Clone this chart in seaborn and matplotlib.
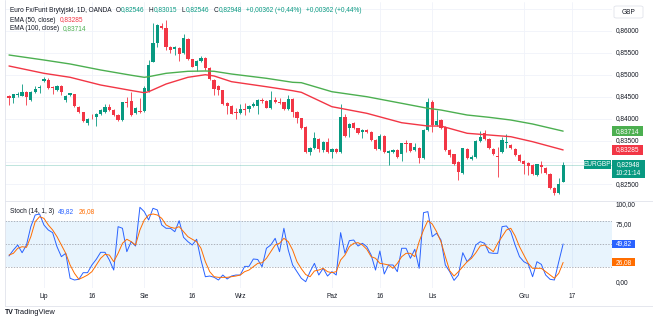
import numpy as np
import matplotlib
matplotlib.use('Agg')
import matplotlib.pyplot as plt
import matplotlib.transforms as mtrans
from matplotlib.patches import Rectangle, FancyBboxPatch
import seaborn as sns

# ---------------- data ----------------
opens = [0.84516, 0.84477, 0.84532, 0.84523, 0.84600, 0.84425, 0.84614, 0.84692, 0.84865, 0.84881,
         0.84728, 0.84653, 0.84744, 0.84425, 0.84539, 0.84555, 0.84272, 0.84144, 0.83893, 0.84021,
         0.84037, 0.84098, 0.84158, 0.84272, 0.84196, 0.84082, 0.83968, 0.84372, 0.84402, 0.84121,
         0.84180, 0.84174, 0.84630, 0.85299, 0.85719, 0.86121, 0.86075, 0.85642, 0.85589, 0.85619,
         0.85491, 0.85817, 0.85361, 0.85208, 0.85315, 0.85390, 0.85162, 0.84881, 0.84737, 0.84646,
         0.84349, 0.84295, 0.84144, 0.84121, 0.84219, 0.84219, 0.84295, 0.84295, 0.84425, 0.84402,
         0.84235, 0.84425, 0.84372, 0.84372, 0.84219, 0.84448, 0.84158, 0.84007, 0.83808, 0.83231,
         0.83336, 0.83534, 0.83283, 0.83459, 0.83231, 0.83306, 0.83231, 0.84043, 0.83779, 0.83893,
         0.83779, 0.83687, 0.83740, 0.83687, 0.83512, 0.83306, 0.83610, 0.83208, 0.83231, 0.83283,
         0.83185, 0.83436, 0.83436, 0.83283, 0.83336, 0.83094, 0.83740, 0.84372, 0.83854, 0.83968,
         0.83815, 0.83283, 0.83185, 0.83002, 0.82751, 0.83306, 0.83078, 0.83130, 0.83489, 0.83665,
         0.83534, 0.83306, 0.83153, 0.83231, 0.83443, 0.83397, 0.83306, 0.83169, 0.83032, 0.82986,
         0.82941, 0.82712, 0.82941, 0.82879, 0.82728, 0.82423, 0.82295, 0.82546]
highs = [0.84539, 0.84569, 0.84614, 0.84783, 0.84619, 0.84619, 0.84751, 0.84756, 0.84957, 0.84927,
         0.84744, 0.84767, 0.84767, 0.84539, 0.84596, 0.84573, 0.84288, 0.84162, 0.84014, 0.84098,
         0.84117, 0.84219, 0.84327, 0.84327, 0.84219, 0.84105, 0.84390, 0.84500, 0.84600, 0.84265,
         0.84464, 0.84744, 0.85338, 0.86176, 0.86171, 0.86176, 0.86251, 0.85658, 0.85664, 0.85635,
         0.85925, 0.85840, 0.85372, 0.85338, 0.85436, 0.85406, 0.85178, 0.84904, 0.84756, 0.84664,
         0.84368, 0.84311, 0.84249, 0.84327, 0.84349, 0.84311, 0.84372, 0.84448, 0.84464, 0.84425,
         0.84630, 0.84500, 0.84464, 0.84390, 0.84539, 0.84470, 0.84174, 0.84025, 0.83831, 0.83352,
         0.83701, 0.83557, 0.83489, 0.83564, 0.83329, 0.83329, 0.84327, 0.84105, 0.83900, 0.83922,
         0.83797, 0.83763, 0.83763, 0.83706, 0.83534, 0.83648, 0.83637, 0.83283, 0.83306, 0.83306,
         0.83454, 0.83512, 0.83454, 0.83436, 0.83352, 0.83763, 0.84477, 0.84425, 0.84196, 0.83991,
         0.83831, 0.83306, 0.83203, 0.83021, 0.83340, 0.83329, 0.83158, 0.83512, 0.83717, 0.83740,
         0.83557, 0.83329, 0.83359, 0.83587, 0.83642, 0.83420, 0.83329, 0.83192, 0.83055, 0.83009,
         0.82957, 0.82975, 0.83024, 0.82895, 0.82747, 0.82439, 0.82651, 0.83015]
lows = [0.84311, 0.84356, 0.84500, 0.84505, 0.84311, 0.84402, 0.84596, 0.84585, 0.84847, 0.84687,
        0.84562, 0.84630, 0.84539, 0.84372, 0.84516, 0.84276, 0.84128, 0.83922, 0.83854, 0.83991,
        0.83831, 0.84082, 0.84139, 0.84174, 0.84060, 0.83945, 0.83945, 0.84272, 0.84060, 0.84105,
        0.84139, 0.84151, 0.84607, 0.85281, 0.85642, 0.86046, 0.85566, 0.85491, 0.85452, 0.85315,
        0.85475, 0.85338, 0.85167, 0.85087, 0.85292, 0.85110, 0.84881, 0.84539, 0.84539, 0.84311,
        0.84098, 0.84094, 0.83991, 0.84105, 0.84082, 0.84158, 0.84276, 0.84098, 0.84349, 0.84231,
        0.84219, 0.84356, 0.84333, 0.84196, 0.84196, 0.84043, 0.83893, 0.83763, 0.83215, 0.83169,
        0.83317, 0.83244, 0.83231, 0.83215, 0.83107, 0.83226, 0.83215, 0.83580, 0.83587, 0.83763,
        0.83648, 0.83550, 0.83671, 0.83489, 0.83283, 0.83283, 0.83215, 0.82941, 0.83215, 0.83112,
        0.83032, 0.83244, 0.83238, 0.83260, 0.82980, 0.83078, 0.83717, 0.83701, 0.83831, 0.83774,
        0.83260, 0.83130, 0.82941, 0.82598, 0.82735, 0.83089, 0.83055, 0.83112, 0.83477, 0.83512,
        0.83317, 0.83169, 0.82674, 0.83215, 0.83322, 0.83306, 0.83146, 0.83009, 0.82728, 0.82712,
        0.82712, 0.82689, 0.82751, 0.82735, 0.82404, 0.82256, 0.82279, 0.82546]
closes = [0.84464, 0.84555, 0.84569, 0.84600, 0.84486, 0.84600, 0.84676, 0.84728, 0.84904, 0.84706,
          0.84692, 0.84744, 0.84600, 0.84516, 0.84578, 0.84295, 0.84144, 0.83945, 0.83991, 0.84007,
          0.84098, 0.84196, 0.84272, 0.84196, 0.84082, 0.83968, 0.84372, 0.84356, 0.84082, 0.84235,
          0.84158, 0.84706, 0.85224, 0.85719, 0.86137, 0.86062, 0.85642, 0.85566, 0.85635, 0.85468,
          0.85847, 0.85361, 0.85185, 0.85315, 0.85390, 0.85148, 0.84904, 0.84676, 0.84646, 0.84327,
          0.84295, 0.84112, 0.84121, 0.84219, 0.84196, 0.84295, 0.84327, 0.84425, 0.84402, 0.84249,
          0.84425, 0.84372, 0.84356, 0.84219, 0.84448, 0.84152, 0.84021, 0.83779, 0.83231, 0.83336,
          0.83550, 0.83306, 0.83473, 0.83231, 0.83306, 0.83244, 0.84043, 0.83610, 0.83870, 0.83792,
          0.83665, 0.83740, 0.83687, 0.83512, 0.83306, 0.83610, 0.83231, 0.83260, 0.83283, 0.83130,
          0.83436, 0.83420, 0.83260, 0.83359, 0.83094, 0.83740, 0.84372, 0.83854, 0.83945, 0.83792,
          0.83283, 0.83169, 0.82957, 0.82788, 0.83322, 0.83107, 0.83130, 0.83489, 0.83587, 0.83534,
          0.83336, 0.83185, 0.83123, 0.83512, 0.83459, 0.83322, 0.83169, 0.83032, 0.82957, 0.82925,
          0.82728, 0.82957, 0.82902, 0.82751, 0.82423, 0.82295, 0.82500, 0.82948]

ema_idx = [0, 8, 14, 21, 28, 31, 32, 36, 41, 45, 47, 51, 59, 65, 67, 74, 82, 90, 96, 99, 105, 110, 115, 120, 127]
ema50 = [0.85201, 0.85034, 0.84943, 0.84767, 0.84642, 0.84591, 0.84614, 0.84790, 0.84943, 0.85002,
         0.84973, 0.84843, 0.84728, 0.84637, 0.84600, 0.84272, 0.84121, 0.83906, 0.83831, 0.83831,
         0.83665, 0.83626, 0.83587, 0.83473, 0.83285]
ema100 = [0.85452, 0.85338, 0.85247, 0.85110, 0.84990, 0.84943, 0.84957, 0.85034, 0.85080, 0.85087,
          0.85080, 0.85018, 0.84920, 0.84829, 0.84820, 0.84614, 0.84500, 0.84349, 0.84235, 0.84196,
          0.84082, 0.84030, 0.83968, 0.83877, 0.83714]

stoch_k = [34.4, 42.1, 48.5, 38.6, 48.5, 72.1, 87.1, 88.4, 74.3, 67.8,
           64.4, 46.3, 33.5, 37.8, 5.7, 3.5, 4.4, 12.9, 12.9, 22.8,
           30.1, 39.1, 39.1, 29.2, 16.3, 72.1, 70.0, 39.9, 52.8, 47.2,
           97.0, 91.4, 80.7, 95.7, 93.6, 74.3, 70.0, 70.0, 65.6, 79.8,
           58.4, 52.8, 48.5, 55.9, 29.2, 7.7, 8.6, 7.0, 3.5, 9.9,
           4.8, 8.6, 9.9, 9.9, 21.0, 21.0, 30.5, 29.9, 20.6, 44.3,
           48.5, 57.1, 39.9, 70.0, 42.1, 22.8, 14.2,
           5.6, 1.3, 14.2, 24.9, 9.9, 18.5, 8.6, 14.2, 9.9, 64.4,
           37.8, 54.1, 54.9, 47.2, 50.7, 46.3, 35.6, 16.3, 40.8, 11.2,
           22.8, 22.8, 14.2, 44.3, 44.3, 31.4, 43.0, 18.5, 90.1, 91.4,
           59.2, 63.6, 54.9, 22.8, 14.2, 3.0, 9.9, 38.6, 27.0, 33.5,
           48.5, 52.8, 50.7, 38.6, 37.8, 37.8, 72.1, 73.0, 65.6, 48.5,
           33.5, 27.0, 24.0, 7.7, 27.0, 23.6, 9.9, 4.4, 3.5, 27.0, 49.82]
stoch_d = [35.6, 37.8, 44.3, 46.3, 45.5, 59.2, 78.5, 84.9, 82.8, 74.3,
           67.8, 59.2, 48.5, 37.8, 22.8, 12.1, 4.4, 6.9, 9.9, 14.2,
           22.8, 31.4, 36.5, 35.6, 27.0, 37.8, 50.7, 55.9, 52.8, 48.5,
           67.8, 80.7, 87.1, 88.4, 87.1, 82.8, 74.3, 71.3, 70.0, 72.1,
           65.6, 59.2, 55.9, 52.8, 44.3, 27.0, 14.2, 7.7, 6.9, 6.9,
           6.9, 7.7, 8.6, 9.9, 14.2, 16.3, 20.6, 24.9, 25.7, 31.4,
           39.9, 48.5, 50.7, 57.1, 52.8, 42.1, 27.0,
           18.0, 10.5, 7.7, 15.1, 16.3, 18.5, 14.2, 12.9, 14.2, 29.2,
           35.6, 46.3, 50.7, 51.5, 48.5, 43.0, 33.5, 31.4, 24.9, 24.0,
           22.8, 18.5, 24.9, 33.5, 37.8, 37.8, 33.5, 52.8, 67.8, 79.8,
           75.5, 65.6, 52.8, 33.5, 15.4, 8.6, 14.2, 20.6, 27.0, 31.4,
           38.6, 47.2, 48.5, 44.3, 39.9, 50.7, 59.2, 67.8, 70.0, 60.1,
           46.3, 35.6, 24.9, 18.5, 18.5, 18.5, 14.2, 9.9, 5.7, 12.1, 26.08]

tick_pos = [8, 19, 31, 42, 53, 74, 85, 97, 118, 129]
tick_lbl = ['Lip', '16', 'Sie', '16', 'Wrz', 'Paź', '16', 'Lis', 'Gru', '17']
price_ticks = [0.860, 0.855, 0.850, 0.845, 0.840, 0.835, 0.825]
price_lbls = ['0,86000', '0,85500', '0,85000', '0,84500', '0,84000', '0,83500', '0,82500']
stoch_ticks = [100, 75, 0]
stoch_lbls = ['100,00', '75,00', '0,00']

last_close = 0.82948
last_k, last_d = 49.82, 26.08

# ---------------- style ----------------
GREEN = '#089981'
RED = '#f23645'
EMA_G = '#4caf50'
BLUE = '#2962ff'
ORANGE = '#ff6d00'
TXT = '#131722'
GRID = '#f0f3fa'

sns.set_theme(style='white')
plt.rcParams['font.family'] = ['Liberation Sans', 'DejaVu Sans']

W, H, DPI = 653, 322, 100
fig = plt.figure(figsize=(W / DPI, H / DPI), dpi=DPI)
fig.patch.set_facecolor('white')


def fy(y):
    return 1 - y / H


L0, R0 = 5, 612
ax = fig.add_axes([L0 / W, fy(200), (R0 - L0) / W, 198 / H])
ax2 = fig.add_axes([L0 / W, fy(288), (R0 - L0) / W, 87 / H])
for a in (ax, ax2):
    a.set_facecolor('none')
    for s in a.spines.values():
        s.set_visible(False)
    a.set_xticks([])
    a.set_yticks([])
    a.set_xlim(-0.92, 138.2)
ax.set_ylim(0.82142, 0.86662)
ax2.set_ylim(-6.8, 105.1)

# grids
for p in np.arange(0.825, 0.8651, 0.005):
    ax.axhline(p, color=GRID, lw=0.6, zorder=0)
for t in tick_pos:
    ax.axvline(t, color=GRID, lw=0.6, zorder=0)
    ax2.axvline(t, color=GRID, lw=0.6, zorder=0)

# candles
o = np.array(opens); h = np.array(highs); l = np.array(lows); c = np.array(closes)
idx = np.arange(len(o))
cols = np.where(c >= o, GREEN, RED)
ax.vlines(idx, l, h, colors=cols, lw=0.6, zorder=2)
body = np.maximum(np.abs(c - o), 0.00012)
ax.bar(idx, body, bottom=np.minimum(o, c), width=0.74, color=cols, linewidth=0, zorder=3)

# last price line
ax.axhline(last_close, color=GREEN, lw=0.6, alpha=0.3, zorder=1)

# EMAs
sns.lineplot(x=ema_idx, y=ema100, ax=ax, color=EMA_G, lw=1.0, zorder=4)
sns.lineplot(x=ema_idx, y=ema50, ax=ax, color=RED, lw=1.0, zorder=4)

# stochastic
ax2.axhspan(20, 80, color='#2196f3', alpha=0.1, lw=0, zorder=0)
for v in (20, 50, 80):
    ax2.axhline(v, color='#9598a1', lw=0.5, ls=(0, (2, 2)), zorder=1)
sns.lineplot(x=idx, y=stoch_k, ax=ax2, color=BLUE, lw=0.7, zorder=3)
sns.lineplot(x=idx, y=stoch_d, ax=ax2, color=ORANGE, lw=0.7, zorder=3)
for a in (ax, ax2):
    a.set_xlabel('')
    a.set_ylabel('')
    a.set_xticks([])
    a.set_yticks([])

# ---------------- texts ----------------
fig.canvas.draw()
rend = fig.canvas.get_renderer()
tmp = fig.text(0, 0, 'Euro Fx/Funt Brytyjski, 1D, OANDA', fontsize=10)
FS = 10 * 103 / tmp.get_window_extent(rend).width
tmp.remove()


def chain(x, y, parts, size=None):
    size = size or FS
    for s, col, gap in parts:
        t = fig.text(x / W, fy(y), s, color=col, fontsize=size, ha='left', va='center')
        x += t.get_window_extent(rend).width + gap


chain(10, 10, [('Euro Fx/Funt Brytyjski, 1D, OANDA', TXT, 4),
               ('O', TXT, 0.6), ('0,82546', GREEN, 4),
               ('H', TXT, 0.6), ('0,83015', GREEN, 4),
               ('L', TXT, 0.6), ('0,82546', GREEN, 4),
               ('C', TXT, 0.6), ('0,82948', GREEN, 4),
               ('+0,00362 (+0,44%)', GREEN, 5),
               ('+0,00362 (+0,44%)', GREEN, 0)])
chain(10, 20, [('EMA (50, close)', TXT, 4), ('0,83285', RED, 0)])
chain(10, 29, [('EMA (100, close)', TXT, 4), ('0,83714', EMA_G, 0)])
chain(10, 211.5, [('Stoch (14, 1, 3)', TXT, 4), ('49,82', BLUE, 4), ('26,08', ORANGE, 0)])

# right axis labels
xlab = (616 - L0) / (R0 - L0)
bt = mtrans.blended_transform_factory(ax.transAxes, ax.transData)
for p, s in zip(price_ticks, price_lbls):
    ax.text(xlab, p, s, transform=bt, fontsize=FS, color=TXT, ha='left', va='center', clip_on=False)
bt2 = mtrans.blended_transform_factory(ax2.transAxes, ax2.transData)
for p, s in zip(stoch_ticks, stoch_lbls):
    ax2.text(xlab, p, s, transform=bt2, fontsize=FS, color=TXT, ha='left', va='center', clip_on=False)

# x tick labels
btx = mtrans.blended_transform_factory(ax2.transData, fig.transFigure)
for t, s in zip(tick_pos, tick_lbl):
    ax2.text(t, fy(296), s, transform=btx, fontsize=FS, color=TXT, ha='center', va='center', clip_on=False)


def ypix(a, v):
    return H - a.transData.transform((0, v))[1]


def box(x0, x1, yc, hgt, fc, lines, tc='white', ec='none'):
    fig.patches.append(Rectangle((x0 / W, fy(yc + hgt / 2)), (x1 - x0) / W, hgt / H,
                                 transform=fig.transFigure, fc=fc, ec=ec, lw=0.5, zorder=10))
    n = len(lines)
    for k, s in enumerate(lines):
        yy = yc - hgt / 2 + hgt * (k + 0.5) / n
        fig.text((x0 + x1) / 2 / W, fy(yy), s, color=tc, fontsize=FS, ha='center', va='center', zorder=11)


box(612, 643, ypix(ax, ema100[-1]), 9.5, EMA_G, ['0,83714'])
box(612, 643, ypix(ax, ema50[-1]), 9.5, RED, ['0,83285'])
yc = ypix(ax, last_close)
box(584, 611, yc, 9.5, GREEN, ['EURGBP'])
box(612, 645, yc + 4.4, 18.2, GREEN, ['0,82948', '10:21:14'])
box(612, 635, ypix(ax2, last_k), 8, BLUE, ['49,82'])
box(612, 635, ypix(ax2, last_d), 8, ORANGE, ['26,08'])

# GBP currency button
fig.patches.append(FancyBboxPatch((614 / W, fy(18)), 29 / W, 12 / H,
                                  boxstyle='round,pad=0,rounding_size=0.004',
                                  transform=fig.transFigure, fc='white', ec='#e0e3eb', lw=0.6, zorder=10))
fig.text(628.5 / W, fy(12), 'GBP', fontsize=FS, color=TXT, ha='center', va='center', zorder=11)

# frame lines
fig.add_artist(plt.Line2D([L0 / W, 1], [fy(200.5), fy(200.5)], transform=fig.transFigure, color='#e0e3eb', lw=0.6))
fig.add_artist(plt.Line2D([L0 / W, 1], [fy(305.5), fy(305.5)], transform=fig.transFigure, color='#e0e3eb', lw=0.6))
fig.add_artist(plt.Line2D([L0 / W, L0 / W], [fy(305.5), 1], transform=fig.transFigure, color='#e0e3eb', lw=0.6))

# TradingView logo
fig.text(5 / W, fy(312), 'TV', fontsize=FS * 1.05, color=TXT, weight='heavy', ha='left', va='center')
fig.text(13.5 / W, fy(312), 'TradingView', fontsize=FS * 1.15, color=TXT, ha='left', va='center')

fig.savefig('out.png', dpi=DPI, facecolor='white')
